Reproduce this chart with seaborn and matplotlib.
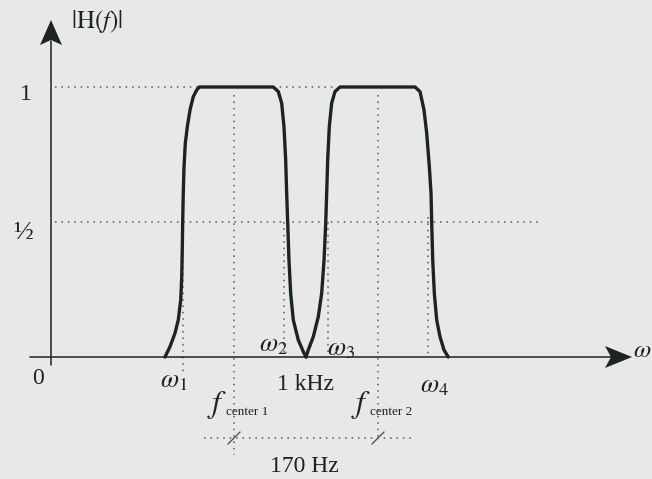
import matplotlib
matplotlib.use("Agg")
import matplotlib.pyplot as plt
import pandas as pd
import seaborn as sns
from matplotlib.patches import Polygon

# Passband edges and centre frequencies (Hz)
edge_freqs = [855, 974, 1026, 1144]
edge_labels = [r"$\omega_{\mathit{1}}$", r"$\omega_{\mathit{2}}$",
               r"$\omega_{\mathit{3}}$", r"$\omega_{\mathit{4}}$"]
center_freqs = [915, 1085]
center_subs = ["center 1", "center 2"]
mid_freq = 1000
mid_label = "1 kHz"
spacing_label = "170 Hz"
level_values = [1.0, 0.5, 0.0]
level_labels = ["1", "½", "0"]
y_label = r"$|\mathrm{H}(f)|$"
x_label = r"$\omega$"

# Magnitude response of the two band-pass filters
band1_freq = [833.5, 839.4, 845.3, 849.2, 852.1, 853.3, 854.0, 854.4, 855.1, 856.0,
              857.5, 859.9, 863.1, 866.9, 871.0, 874.0,
              961.4, 967.3, 971.3, 974.0, 976.0, 977.2, 978.4, 979.9, 981.9, 985.0,
              990.9, 996.8, 1000.0]
band1_mag = [0.0, 0.038, 0.088, 0.137, 0.211, 0.297, 0.409, 0.497, 0.606, 0.705,
             0.791, 0.853, 0.915, 0.964, 0.989, 1.0,
             1.0, 0.983, 0.940, 0.853, 0.730, 0.606, 0.497, 0.359, 0.236, 0.137,
             0.063, 0.020, 0.0]
band2_freq = [1000.0, 1002.7, 1008.6, 1014.5, 1018.5, 1021.3, 1023.3, 1024.4, 1025.6,
              1027.5, 1030.3, 1034.2, 1040.1,
              1128.7, 1134.6, 1139.3, 1142.5, 1145.6, 1147.6, 1148.4, 1149.6, 1151.5,
              1154.3, 1158.2, 1162.9, 1168.0]
band2_mag = [0.0, 0.026, 0.075, 0.149, 0.236, 0.359, 0.497, 0.606, 0.730,
             0.853, 0.940, 0.983, 1.0,
             1.0, 0.983, 0.915, 0.829, 0.705, 0.606, 0.497, 0.359, 0.236,
             0.137, 0.075, 0.026, 0.0]

BG = "#e8e8ea"
INK = "#1c241e"
DOT = "#555a57"

sns.set_theme(style="white", rc={"axes.facecolor": BG, "figure.facecolor": BG})
plt.rcParams["font.family"] = ["Liberation Serif", "DejaVu Serif"]
plt.rcParams["mathtext.fontset"] = "stix"

fig = plt.figure(figsize=(6.52, 4.79), dpi=100)
ax = fig.add_axes([0, 0, 1, 1])

# scale: pixels of the canvas to data units
HZ_PX = 170 / 144
MAG_PX = 1 / 270
ax.set_xlim(1000 - 306 * HZ_PX, 1000 + 346 * HZ_PX)
ax.set_ylim(-(479 - 357) * MAG_PX, 357 * MAG_PX)
ax.set_axis_off()

x_axis_pos = 1000 - 255 * HZ_PX  # frequency where the vertical axis sits

dot = dict(color=DOT, lw=1.1, ls=(0, (1, 3.2)), zorder=1)

# horizontal guide levels
ax.plot([x_axis_pos + 4 * HZ_PX, 1037], [level_values[0]] * 2, **dot)
ax.plot([x_axis_pos + 4 * HZ_PX, 1276], [level_values[1]] * 2, **dot)

# vertical guides at the passband edges
ax.plot([edge_freqs[0]] * 2, [0.5, -18 * MAG_PX], **dot)
ax.plot([edge_freqs[1]] * 2, [0.5, 0.0], **dot)
ax.plot([edge_freqs[2]] * 2, [0.5, 0.0], **dot)
ax.plot([edge_freqs[3]] * 2, [0.52, 0.0], **dot)

# vertical guides at the centre frequencies
ax.plot([center_freqs[0]] * 2, [0.97, -98 * MAG_PX], **dot)
ax.plot([center_freqs[1]] * 2, [0.97, -83 * MAG_PX], **dot)

# dimension line for the spacing between centres
dim_y = -81 * MAG_PX
ax.plot([center_freqs[0] - 30 * HZ_PX, center_freqs[1] + 36 * HZ_PX], [dim_y] * 2, **dot)
for cf in center_freqs:
    ax.plot([cf - 6 * HZ_PX, cf + 6 * HZ_PX], [dim_y - 6 * MAG_PX, dim_y + 6 * MAG_PX],
            color=DOT, lw=1.0, zorder=2)

# filter responses
df = pd.concat([
    pd.DataFrame({"freq": band1_freq, "mag": band1_mag, "band": "1"}),
    pd.DataFrame({"freq": band2_freq, "mag": band2_mag, "band": "2"}),
])
sns.lineplot(data=df, x="freq", y="mag", units="band", estimator=None, sort=False,
             color=INK, lw=2.4, ax=ax, zorder=4, legend=False)
ax.set_axis_off()

# axes with arrowheads
ax.plot([x_axis_pos, x_axis_pos], [-8 * MAG_PX, 1.17], color=INK, lw=1.1, zorder=3)
ax.plot([1000 - 276 * HZ_PX, 1000 + 312 * HZ_PX], [0, 0], color=INK, lw=1.1, zorder=3)
ax.add_patch(Polygon([
    (x_axis_pos, 337 * MAG_PX),
    (x_axis_pos - 11 * HZ_PX, 312 * MAG_PX),
    (x_axis_pos, 317 * MAG_PX),
    (x_axis_pos + 11 * HZ_PX, 312 * MAG_PX),
], closed=True, color=INK, lw=0, zorder=5))
tip = 1000 + 326 * HZ_PX
ax.add_patch(Polygon([
    (tip, 0),
    (tip - 27 * HZ_PX, 11 * MAG_PX),
    (tip - 21 * HZ_PX, 0),
    (tip - 27 * HZ_PX, -11 * MAG_PX),
], closed=True, color=INK, lw=0, zorder=5))

txt = dict(color=INK, ha="center", va="center", zorder=6)

ax.text(x_axis_pos + 46 * HZ_PX, 336 * MAG_PX, y_label, fontsize=18, **txt)
ax.text(1000 + 345 * HZ_PX, 6 * MAG_PX, x_label, fontsize=18, color=INK,
        ha="right", va="center")

ax.text(x_axis_pos - 25 * HZ_PX, level_values[0] - 7 * MAG_PX, level_labels[0], fontsize=17, **txt)
ax.text(x_axis_pos - 28 * HZ_PX, level_values[1] - 10 * MAG_PX, level_labels[1], fontsize=19, **txt)
ax.text(x_axis_pos - 13 * HZ_PX, level_values[2] - 21 * MAG_PX, level_labels[2], fontsize=17, **txt)

edge_offsets = [(-9, -25), (-11, 11), (13, 7), (6, -30)]
for f, lab, (dx, dy) in zip(edge_freqs, edge_labels, edge_offsets):
    ax.text(f + dx * HZ_PX, dy * MAG_PX, lab, fontsize=19, **txt)

ax.text(mid_freq, -27 * MAG_PX, mid_label, fontsize=17, **txt)

# centre-frequency labels: large italic f with a small roman subscript
for f, sub in zip(center_freqs, center_subs):
    ax.text(f - 7 * HZ_PX, -48 * MAG_PX, r"$f$", fontsize=23, color=INK,
            ha="right", va="center", zorder=6)
    ax.text(f - 8 * HZ_PX, -55 * MAG_PX, sub, fontsize=9.5, color=INK,
            ha="left", va="center", zorder=6)

ax.text(mid_freq - 2 * HZ_PX, -109 * MAG_PX, spacing_label, fontsize=17, **txt)

fig.savefig("out.png", dpi=100, facecolor=BG)
